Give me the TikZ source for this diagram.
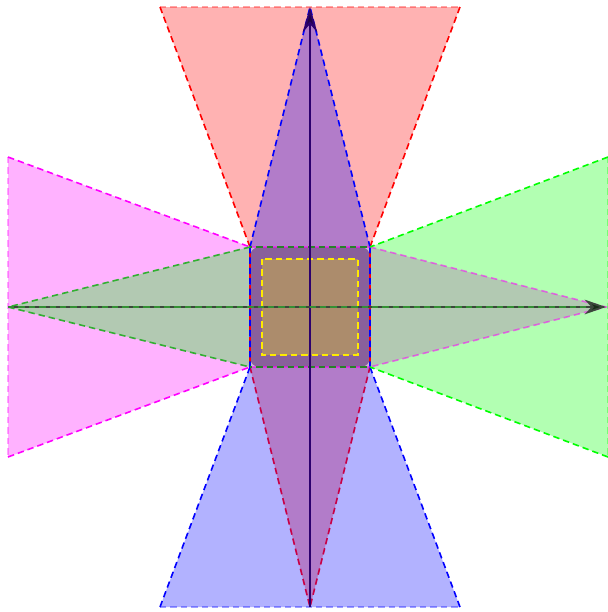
\documentclass[tikz,border=0pt]{standalone}
\usetikzlibrary{arrows.meta}
\definecolor{sqfill}{RGB}{137,96,155}
\definecolor{vaxis}{RGB}{45,0,110}
\definecolor{vtip}{RGB}{35,0,70}
\definecolor{haxis}{RGB}{60,72,60}
\definecolor{htip}{RGB}{25,45,25}
\definecolor{dgreen}{RGB}{40,130,40}
\definecolor{ylw}{RGB}{255,235,0}
\definecolor{mag}{RGB}{255,0,255}
\definecolor{grn}{RGB}{0,255,0}
\definecolor{midgreen}{RGB}{50,175,50}
\definecolor{darkred}{RGB}{200,0,70}
\begin{document}
\begin{tikzpicture}[x=0.75pt,y=-0.75pt,
  dl/.style={dash pattern=on 4.8pt off 3pt, line width=1.2pt},
  farline/.style={dl, draw opacity=0.35},
  axisv/.style={line width=1.4pt, draw=vaxis,
     -{Stealth[length=19pt,width=11pt,fill=vtip]}},
  axish/.style={line width=1.4pt, draw=haxis,
     -{Stealth[length=16pt,width=11pt,fill=htip]}}]
\useasboundingbox (0,0) rectangle (608,612);
% key points
\coordinate (A) at (250,247);
\coordinate (B) at (370,247);
\coordinate (C) at (370,367);
\coordinate (D) at (250,367);
\coordinate (T) at (310,7);
\coordinate (S) at (310,607);
\coordinate (L) at (8,307);
\coordinate (R) at (606,307);
\coordinate (TL) at (160,7);
\coordinate (TR) at (460,7);
\coordinate (BL) at (160,607);
\coordinate (BR) at (460,607);
\coordinate (LT) at (8,157);
\coordinate (LB) at (8,457);
\coordinate (RT) at (608,157);
\coordinate (RB) at (608,457);
\coordinate (GE) at (588,307);
% fills: red & magenta first, blue & green on top
\fill[red, opacity=0.3] (TL)--(TR)--(B)--(A)--cycle (S)--(C)--(D)--cycle;
\fill[mag, opacity=0.3] (LT)--(A)--(D)--(LB)--cycle (R)--(B)--(C)--cycle;
\fill[blue, opacity=0.3] (BL)--(BR)--(C)--(D)--cycle (T)--(B)--(A)--cycle;
\fill[grn, opacity=0.3] (RT)--(B)--(C)--(RB)--cycle (L)--(A)--(D)--cycle;
% central square
\fill[sqfill, opacity=0.45] (A) rectangle (C);
\fill[sqfill, rounded corners=7pt] (A) rectangle (C);
% dashed outlines
\draw[dl, red] (TL)--(A) (TR)--(B);
\draw[dl, darkred] (D)--(S)--(C);
\draw[dl, red, dash phase=3pt] (A)--(D) (B)--(C);
\draw[dl, blue] (BL)--(D) (BR)--(C) (A)--(T)--(B) (A)--(D) (B)--(C);
\draw[dl, mag] (LT)--(A) (LB)--(D);
\draw[dl, mag, draw opacity=0.55] (B)--(R)--(C) (A)--(B) (D)--(C);
\draw[dl, grn] (RT)--(B) (RB)--(C);
\draw[dl, midgreen] (A)--(L)--(D);
\draw[dl, dgreen, dash phase=3pt] (A)--(B) (D)--(C);
\draw[farline, red] (TL)--(TR);
\draw[farline, blue] (BL)--(BR);
\draw[farline, mag] (LT)--(LB);
\draw[farline, grn] (RT)--(RB);
% inner rectangle
\coordinate (IA) at (262,259);
\coordinate (IC) at (358,355);
\draw[dl, ylw, fill=yellow, fill opacity=0.3] (IA) rectangle (IC);
% axes
\draw[axisv] (S)--(T);
\draw[axish] (L)--(R);
\draw[dl, midgreen, draw opacity=0.7] (L)--(GE);
\end{tikzpicture}
\end{document}
